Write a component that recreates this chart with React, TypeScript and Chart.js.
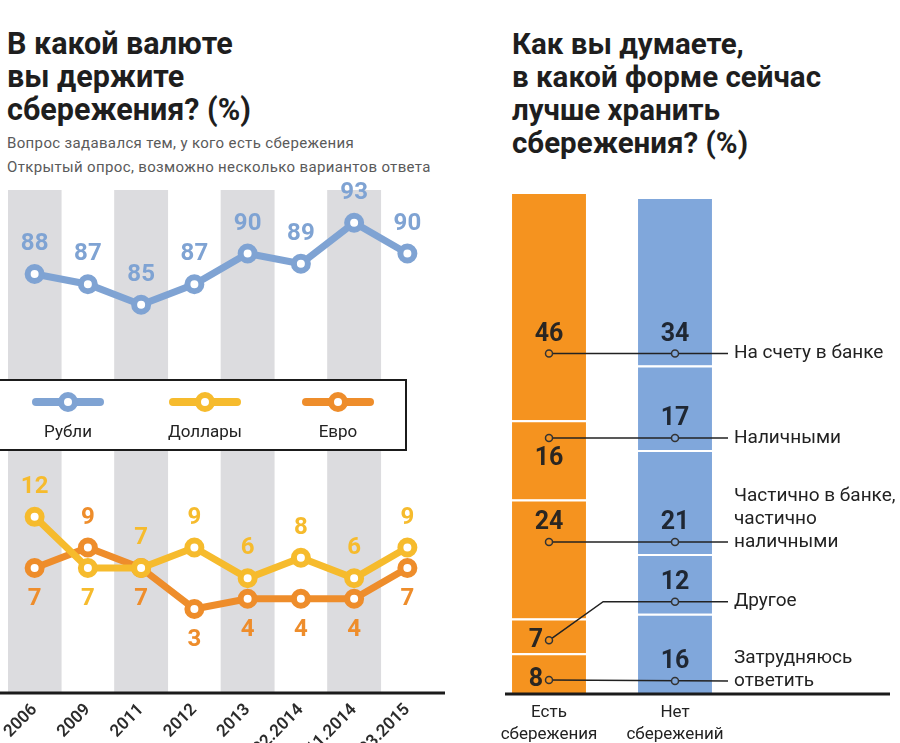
import React, { useEffect, useRef } from 'react';
import { Chart, registerables } from 'chart.js';
Chart.register(...registerables);

// ---------- data ----------
const periods = ['2006', '2009', '2011', '2012', '2013', '02.2014', '11.2014', '03.2015'];
const rubles = [88, 87, 85, 87, 90, 89, 93, 90];
const dollars = [12, 7, 7, 9, 6, 8, 6, 9];
const euros = [7, 9, 7, 3, 4, 4, 4, 7];
const bandMask = [1, null, 1, null, 1, null, 1, null];
const currencyNames = ['Рубли', 'Доллары', 'Евро'];

const groups = [['Есть', 'сбережения'], ['Нет', 'сбережений']];
// bottom to top
const answers = ['Затрудняюсь\nответить', 'Другое', 'Частично в банке,\nчастично\nналичными', 'Наличными', 'На счету в банке'];
const withSavings = [8, 7, 24, 16, 46];
const withoutSavings = [16, 12, 21, 17, 34];

// ---------- style ----------
const FONT = 'Roboto, "DejaVu Sans", sans-serif';
const RUB = '#7fa3d3';
const USD = '#f6bb2d';
const EUR = '#ee8d2b';
const BAND = '#dcdcdf';
const ORANGE = '#f5931f';
const BLUE = '#80a7db';
const DARK = '#222222';
const orangeLabelMode = ['left', 'left', 'above', 'below', 'above'];

const leftDecor = {
  id: 'leftDecor',
  afterDatasetsDraw(chart: any) {
    const { ctx, chartArea } = chart;
    ctx.save();
    // axis line
    ctx.strokeStyle = '#1b1b1b';
    ctx.lineWidth = 3;
    ctx.beginPath();
    ctx.moveTo(0, chartArea.bottom + 1);
    ctx.lineTo(445, chartArea.bottom + 1);
    ctx.stroke();

    // legend box
    const boxTop = 200, boxBottom = 270;
    ctx.fillStyle = '#fff';
    ctx.fillRect(-4, boxTop, 410, boxBottom - boxTop);
    ctx.strokeStyle = '#1b1b1b';
    ctx.lineWidth = 2;
    ctx.strokeRect(-4, boxTop, 410, boxBottom - boxTop);
    const cx = [68, 205, 338];
    const cols = [RUB, USD, EUR];
    for (let i = 0; i < 3; i++) {
      const x = cx[i], y = 222;
      ctx.strokeStyle = cols[i];
      ctx.lineCap = 'round';
      ctx.lineWidth = 8;
      ctx.beginPath();
      ctx.moveTo(x - 32, y);
      ctx.lineTo(x + 32, y);
      ctx.stroke();
      ctx.beginPath();
      ctx.arc(x, y, 7, 0, Math.PI * 2);
      ctx.fillStyle = '#fff';
      ctx.fill();
      ctx.lineWidth = 6;
      ctx.stroke();
      ctx.fillStyle = DARK;
      ctx.font = `17px ${FONT}`;
      ctx.textAlign = 'center';
      ctx.textBaseline = 'middle';
      ctx.fillText(currencyNames[i], x, 253);
    }

    // value labels
    ctx.font = `bold 24px ${FONT}`;
    ctx.textAlign = 'center';
    ctx.textBaseline = 'middle';
    const rMeta = chart.getDatasetMeta(1);
    rMeta.data.forEach((p: any, i: number) => {
      ctx.fillStyle = RUB;
      ctx.fillText(String(rubles[i]), p.x, p.y - 30);
    });
    const dMeta = chart.getDatasetMeta(2);
    const eMeta = chart.getDatasetMeta(3);
    for (let i = 0; i < periods.length; i++) {
      const dUp = dollars[i] >= euros[i];
      const dp = dMeta.data[i], ep = eMeta.data[i];
      ctx.fillStyle = USD;
      ctx.fillText(String(dollars[i]), dp.x, dUp ? dp.y - 30 : dp.y + 31);
      ctx.fillStyle = EUR;
      ctx.fillText(String(euros[i]), ep.x, dUp ? ep.y + 31 : ep.y - 30);
    }
    ctx.restore();
  },
};

const rightDecor = {
  id: 'rightDecor',
  afterDatasetsDraw(chart: any) {
    const { ctx, chartArea } = chart;
    ctx.save();
    ctx.strokeStyle = '#1b1b1b';
    ctx.lineWidth = 3;
    ctx.beginPath();
    ctx.moveTo(25, chartArea.bottom + 1);
    ctx.lineTo(410, chartArea.bottom + 1);
    ctx.stroke();

    chart.data.datasets.forEach((ds: any, d: number) => {
      const meta = chart.getDatasetMeta(d);
      const o = meta.data[0];
      const b = meta.data[1];
      const lineY = b.base - 12;
      const mode = orangeLabelMode[d];
      const ox = o.x;
      const oy = mode === 'left' ? o.base - 13 : lineY;
      const endX = b.x + 53;
      ctx.strokeStyle = DARK;
      ctx.lineWidth = 1.5;
      ctx.beginPath();
      ctx.moveTo(ox, oy);
      if (Math.abs(oy - lineY) > 3) ctx.lineTo(ox + (oy - lineY) * 1.4, lineY);
      ctx.lineTo(endX, lineY);
      ctx.stroke();
      const marker = (x: number, y: number, c: string) => {
        ctx.beginPath();
        ctx.arc(x, y, 3.5, 0, Math.PI * 2);
        ctx.fillStyle = c;
        ctx.fill();
        ctx.lineWidth = 1.5;
        ctx.strokeStyle = '#333';
        ctx.stroke();
      };
      marker(ox, oy, ORANGE);
      marker(b.x, lineY, BLUE);

      ctx.font = `bold 25px ${FONT}`;
      ctx.textBaseline = 'middle';
      ctx.fillStyle = '#2a2622';
      if (mode === 'left') {
        ctx.textAlign = 'right';
        ctx.fillText(String(ds.data[0]), ox - 6, oy);
      } else {
        ctx.textAlign = 'center';
        ctx.fillText(String(ds.data[0]), ox, mode === 'above' ? lineY - 19 : lineY + 21);
      }
      ctx.textAlign = 'center';
      ctx.fillStyle = '#1f2733';
      ctx.fillText(String(ds.data[1]), b.x, lineY - 19);

      const lines = String(ds.label).split('\n');
      ctx.font = `19px ${FONT}`;
      ctx.fillStyle = DARK;
      ctx.textAlign = 'left';
      lines.forEach((ln, k) => {
        ctx.fillText(ln, endX + 6, lineY - (lines.length - 1 - k) * 23);
      });
    });
    ctx.restore();
  },
};

function LeftChart() {
  const ref = useRef<HTMLCanvasElement>(null);
  useEffect(() => {
    const lineDs = (label: string, data: number[], color: string, axis: string) => ({
      type: 'line' as const,
      label,
      data,
      yAxisID: axis,
      borderColor: color,
      borderWidth: 7,
      pointRadius: 7,
      pointBorderWidth: 6,
      pointBackgroundColor: '#fff',
      pointBorderColor: color,
      tension: 0,
      order: 1,
    });
    const chart = new Chart(ref.current!, {
      type: 'bar',
      data: {
        labels: periods,
        datasets: [
          {
            type: 'bar',
            label: 'band',
            data: bandMask as any,
            yAxisID: 'yB',
            backgroundColor: BAND,
            categoryPercentage: 1,
            barPercentage: 1,
            order: 10,
          },
          lineDs(currencyNames[0], rubles, RUB, 'yR'),
          lineDs(currencyNames[1], dollars, USD, 'yF'),
          lineDs(currencyNames[2], euros, EUR, 'yF'),
        ] as any,
      },
      options: {
        responsive: false,
        animation: false,
        devicePixelRatio: 1,
        layout: { autoPadding: false, padding: { top: 10, left: 8, right: 16, bottom: 0 } },
        plugins: { legend: { display: false }, tooltip: { enabled: false } },
        scales: {
          x: {
            offset: true,
            grid: { display: false },
            border: { display: false },
            ticks: {
              color: '#2b2b2b',
              font: { family: FONT, size: 17, weight: '600' },
              minRotation: 45,
              maxRotation: 45,
              padding: 0,
              autoSkip: false,
            },
            afterFit: (s: any) => {
              s.height = 51;
              s.paddingLeft = 0;
              s.paddingRight = 0;
            },
          },
          yR: { display: false, min: 47.2, max: 96.2 },
          yF: { display: false, min: -5.1, max: 43.9 },
          yB: { display: false, min: 0, max: 1 },
        },
      } as any,
      plugins: [leftDecor],
    });
    return () => chart.destroy();
  }, []);
  return <canvas ref={ref} width={450} height={563} style={{ position: 'absolute', left: 0, top: 180 }} />;
}

function RightChart() {
  const ref = useRef<HTMLCanvasElement>(null);
  useEffect(() => {
    const chart = new Chart(ref.current!, {
      type: 'bar',
      data: {
        labels: groups as any,
        datasets: answers.map((a, i) => ({
          label: a,
          data: [withSavings[i], withoutSavings[i]],
          backgroundColor: [ORANGE, BLUE],
          borderColor: '#ffffff',
          borderWidth: { top: 2, bottom: 0, left: 0, right: 0 },
          borderSkipped: false,
          categoryPercentage: 1,
          barPercentage: 0.587,
        })),
      },
      options: {
        responsive: false,
        animation: false,
        devicePixelRatio: 1,
        layout: { autoPadding: false, padding: { top: 12, left: 6, right: 162, bottom: 0 } },
        plugins: { legend: { display: false }, tooltip: { enabled: false } },
        scales: {
          x: {
            stacked: true,
            grid: { display: false },
            border: { display: false },
            ticks: { color: DARK, font: { family: FONT, size: 17, lineHeight: 1.3 }, padding: 1 },
            afterFit: (s: any) => { s.height = 50; },
          },
          y: { stacked: true, display: false, min: 0, max: 101 },
        },
      } as any,
      plugins: [rightDecor],
    });
    return () => chart.destroy();
  }, []);
  return <canvas ref={ref} width={420} height={563} style={{ position: 'absolute', left: 480, top: 180 }} />;
}

export default function App() {
  const title: React.CSSProperties = {
    position: 'absolute',
    fontFamily: FONT,
    fontWeight: 700,
    fontSize: 30.5,
    lineHeight: '33px',
    color: '#1e1e1e',
    whiteSpace: 'nowrap',
  };
  const sub: React.CSSProperties = {
    position: 'absolute',
    left: 7,
    fontFamily: FONT,
    fontSize: 15,
    letterSpacing: '0.35px',
    lineHeight: '24px',
    color: '#5a5a5a',
    whiteSpace: 'nowrap',
  };
  return (
    <div style={{ position: 'absolute', left: 0, top: 0, width: 900, height: 743, overflow: 'hidden', background: '#fff' }}>
      <div style={{ ...title, left: 7, top: 27 }}>
        В какой валюте<br />вы держите<br />сбережения? (%)
      </div>
      <div style={{ ...sub, top: 131 }}>Вопрос задавался тем, у кого есть сбережения</div>
      <div style={{ ...sub, top: 155 }}>Открытый опрос, возможно несколько вариантов ответа</div>
      <div style={{ ...title, left: 512, top: 28, fontSize: 29.5 }}>
        Как вы думаете,<br />в какой форме сейчас<br />лучше хранить<br />сбережения? (%)
      </div>
      <LeftChart />
      <RightChart />
    </div>
  );
}
